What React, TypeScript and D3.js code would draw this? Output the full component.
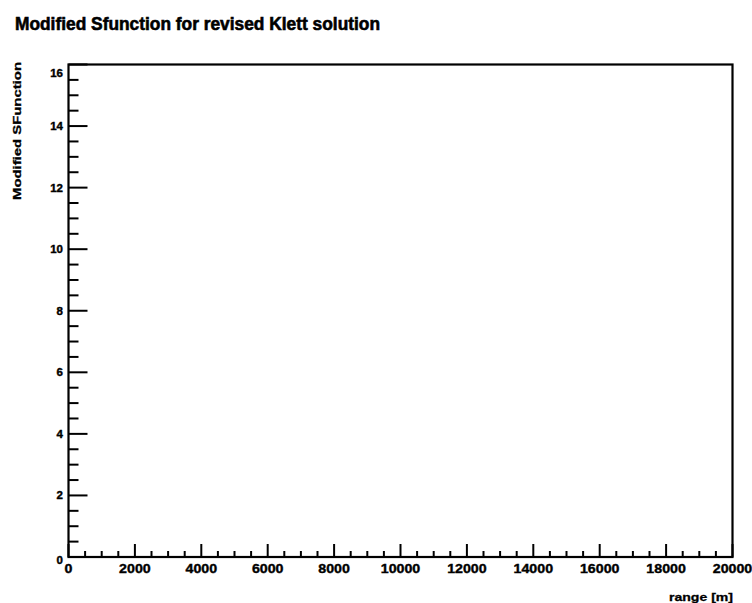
import React from "react";
import * as d3 from "d3";

const titleText = "Modified Sfunction for revised Klett solution";
const xTitle = "range [m]";
const yTitle = "Modified SFunction";
const xDomain = [0, 20000];
const yDomain = [0, 16];
const xMajorTicks = [0, 2000, 4000, 6000, 8000, 10000, 12000, 14000, 16000, 18000, 20000];
const yMajorTicks = [0, 2, 4, 6, 8, 10, 12, 14, 16];
const xMinorStep = 500;
const yMinorStep = 0.5;

const W = 752;
const H = 603;
const left = 68.5;
const right = 732.5;
const top = 64.5;
const bottom = 557;
const font = "'Liberation Sans', Arial, Helvetica, sans-serif";

export default function App() {
  const x = d3.scaleLinear().domain(xDomain).range([left, right]);
  const y = d3.scaleLinear().domain(yDomain).range([bottom, top]);
  const xMinor = d3.range(xDomain[0], xDomain[1] + 1, xMinorStep).filter((v) => !xMajorTicks.includes(v));
  const yMinor = d3.range(yDomain[0], yDomain[1] + 0.001, yMinorStep).filter((v) => !yMajorTicks.includes(v));

  return (
    <svg width={W} height={H} style={{ position: "absolute", left: 0, top: 0, background: "#fff" }}>
      <rect x={0} y={0} width={W} height={H} fill="#fff" />
      <text x={15} y={29.5} fontFamily={font} fontWeight="bold" fontSize={18} textLength={365} lengthAdjust="spacingAndGlyphs"
        fill="#000" stroke="#000" strokeWidth={0.6}>
        {titleText}
      </text>
      {/* frame */}
      <rect x={left} y={top} width={right - left} height={bottom - top} fill="none" stroke="#000" strokeWidth={2.2} />
      {/* y ticks */}
      {yMajorTicks.map((v) => (
        <line key={"ym" + v} x1={left} x2={left + 19} y1={y(v)} y2={y(v)} stroke="#000" strokeWidth={2} />
      ))}
      {yMinor.map((v) => (
        <line key={"yn" + v} x1={left} x2={left + 10} y1={y(v)} y2={y(v)} stroke="#000" strokeWidth={2} />
      ))}
      {yMajorTicks.map((v) => {
        let dy = 4;
        if (v === yDomain[1]) dy = 12;
        if (v === yDomain[0]) dy = 7;
        return (
          <text key={"yl" + v} x={63} y={y(v) + dy} textAnchor="end" fontFamily={font} fontWeight="bold" fontSize={11.5}
            fill="#000" stroke="#000" strokeWidth={0.4}>
            {v}
          </text>
        );
      })}
      {/* x ticks */}
      {xMajorTicks.map((v) => (
        <line key={"xm" + v} x1={x(v)} x2={x(v)} y1={bottom} y2={bottom - 13} stroke="#000" strokeWidth={2} />
      ))}
      {xMinor.map((v) => (
        <line key={"xn" + v} x1={x(v)} x2={x(v)} y1={bottom} y2={bottom - 6} stroke="#000" strokeWidth={2} />
      ))}
      {xMajorTicks.map((v) => {
        const s = String(v);
        return (
          <text key={"xl" + v} x={x(v)} y={573} textAnchor="middle" fontFamily={font} fontWeight="bold" fontSize={13.5}
            textLength={s.length * 7.9} lengthAdjust="spacingAndGlyphs" fill="#000" stroke="#000" strokeWidth={0.4}>
            {s}
          </text>
        );
      })}
      {/* axis titles */}
      <text x={733} y={601} textAnchor="end" fontFamily={font} fontWeight="bold" fontSize={11.5} textLength={64}
        lengthAdjust="spacingAndGlyphs" fill="#000" stroke="#000" strokeWidth={0.3}>
        {xTitle}
      </text>
      <text transform={`translate(21,62) rotate(-90)`} textAnchor="end" fontFamily={font} fontWeight="bold" fontSize={11.5}
        textLength={138} lengthAdjust="spacingAndGlyphs" fill="#000" stroke="#000" strokeWidth={0.3}>
        {yTitle}
      </text>
    </svg>
  );
}
